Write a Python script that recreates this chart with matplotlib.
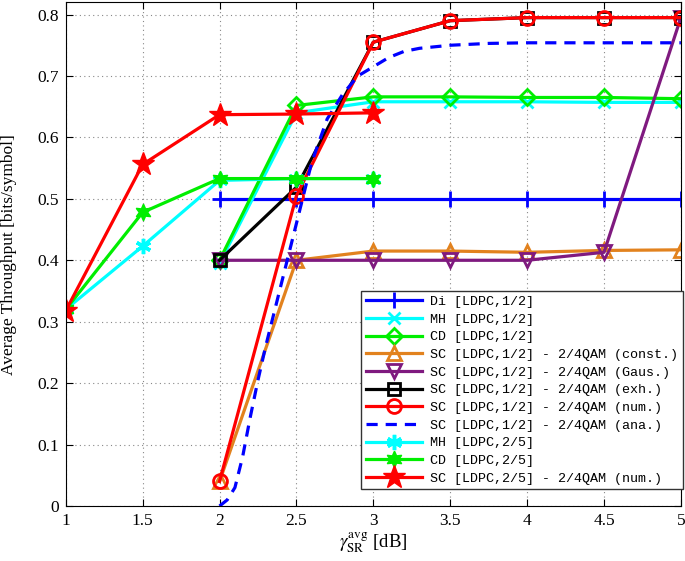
import matplotlib
matplotlib.use('Agg')
import matplotlib.pyplot as plt

plt.rcParams['font.family'] = 'Liberation Serif'
plt.rcParams['mathtext.fontset'] = 'stix'

# x positions (SNR in dB)
snr_half = [2, 2.5, 3, 3.5, 4, 4.5, 5]
snr_25 = [1, 1.5, 2, 2.5, 3]

di_12 = [0.5, 0.5, 0.5, 0.5, 0.5, 0.5, 0.5]
mh_12 = [0.395, 0.640, 0.658, 0.658, 0.658, 0.657, 0.657]
cd_12 = [0.400, 0.652, 0.666, 0.666, 0.665, 0.665, 0.663]
sc_const = [0.040, 0.400, 0.415, 0.415, 0.413, 0.416, 0.417]
sc_gaus = [0.400, 0.400, 0.400, 0.400, 0.400, 0.413, 0.795]
sc_exh = [0.400, 0.519, 0.755, 0.790, 0.795, 0.795, 0.795]
sc_num = [0.040, 0.505, 0.755, 0.790, 0.795, 0.795, 0.795]

snr_ana = [2.0, 2.05, 2.1, 2.15, 2.2, 2.25, 2.3, 2.4, 2.5, 2.6, 2.7, 2.8,
           2.9, 3.0, 3.1, 3.2, 3.3, 3.5, 3.75, 4.0, 4.5, 5.0]
sc_ana = [0.0, 0.01, 0.03, 0.08, 0.145, 0.205, 0.26, 0.36, 0.46, 0.56, 0.63,
          0.67, 0.70, 0.715, 0.73, 0.74, 0.745, 0.75, 0.753, 0.754, 0.754, 0.754]

mh_25 = [0.320, 0.423, 0.530, 0.533, 0.533]
cd_25 = [0.320, 0.478, 0.533, 0.533, 0.533]
sc_25 = [0.318, 0.556, 0.637, 0.638, 0.640]

labels = ['Di [LDPC,1/2]', 'MH [LDPC,1/2]', 'CD [LDPC,1/2]',
          'SC [LDPC,1/2] - 2/4QAM (const.)', 'SC [LDPC,1/2] - 2/4QAM (Gaus.)',
          'SC [LDPC,1/2] - 2/4QAM (exh.)', 'SC [LDPC,1/2] - 2/4QAM (num.)',
          'SC [LDPC,1/2] - 2/4QAM (ana.)', 'MH [LDPC,2/5]', 'CD [LDPC,2/5]',
          'SC [LDPC,2/5] - 2/4QAM (num.)']

orange = '#e2821e'
purple = '#7f1a7f'

fig = plt.figure(figsize=(6.85, 5.61), dpi=100)
ax = fig.add_axes([0.096, 0.098, 0.898, 0.898])

lw = 2.3
ax.plot(snr_half, di_12, color='#0000ff', lw=lw, marker='+', ms=12, mew=2, label=labels[0])
ax.plot(snr_half, mh_12, color='#00ffff', lw=lw, marker='x', ms=8, mew=2, label=labels[1])
ax.plot(snr_half, cd_12, color='#00ee00', lw=lw, marker='D', ms=8, mew=2, mfc='none', label=labels[2])
ax.plot(snr_half, sc_const, color=orange, lw=lw, marker='^', ms=10, mew=2, mfc='none', label=labels[3])
ax.plot(snr_half, sc_gaus, color=purple, lw=lw, marker='v', ms=10, mew=2, mfc='none', label=labels[4])
ax.plot(snr_half, sc_exh, color='black', lw=lw, marker='s', ms=9, mew=2, mfc='none', label=labels[5])
ax.plot(snr_half, sc_num, color='#ff0000', lw=lw, marker='o', ms=10, mew=2, mfc='none', label=labels[6])
ax.plot(snr_ana, sc_ana, color='#0000ff', lw=lw, ls=(0, (3.5, 2.5)), label=labels[7])
ax.plot(snr_25, mh_25, color='#00ffff', lw=lw, marker=(6, 2, 0), ms=11, mew=2.5, label=labels[8])
ax.plot(snr_25, cd_25, color='#00ee00', lw=lw, marker=(6, 1, 0), ms=12, label=labels[9])
ax.plot(snr_25, sc_25, color='#ff0000', lw=lw, marker='*', ms=17, label=labels[10])

ax.set_xlim(1, 5)
ax.set_ylim(0, 0.82)
ax.set_xticks([1, 1.5, 2, 2.5, 3, 3.5, 4, 4.5, 5])
ax.set_xticklabels(['1', '1.5', '2', '2.5', '3', '3.5', '4', '4.5', '5'])
ax.set_yticks([0, 0.1, 0.2, 0.3, 0.4, 0.5, 0.6, 0.7, 0.8])
ax.set_yticklabels(['0', '0.1', '0.2', '0.3', '0.4', '0.5', '0.6', '0.7', '0.8'])
ax.tick_params(direction='in', top=True, right=True, labelsize=12.5, length=5, pad=5)
ax.grid(True, ls=(0, (1, 3)), color='#888888', lw=0.8)

ax.set_xlabel(r'$\gamma_{\mathrm{SR}}^{\mathrm{avg}}$ [dB]', fontsize=13.5, labelpad=1)
ax.set_ylabel('Average Throughput [bits/symbol]', fontsize=12.5)
ax.yaxis.set_label_coords(-0.079, 0.5)

leg = ax.legend(loc='lower right', bbox_to_anchor=(1.003, 0.033),
                prop={'family': 'Liberation Mono', 'size': 9.6},
                fancybox=False, framealpha=1, edgecolor='#333333',
                handlelength=4.2, labelspacing=0.4, borderpad=0.35,
                handletextpad=0.6, borderaxespad=0.0)
leg.get_frame().set_linewidth(1.0)

plt.savefig('out.png', dpi=100)
